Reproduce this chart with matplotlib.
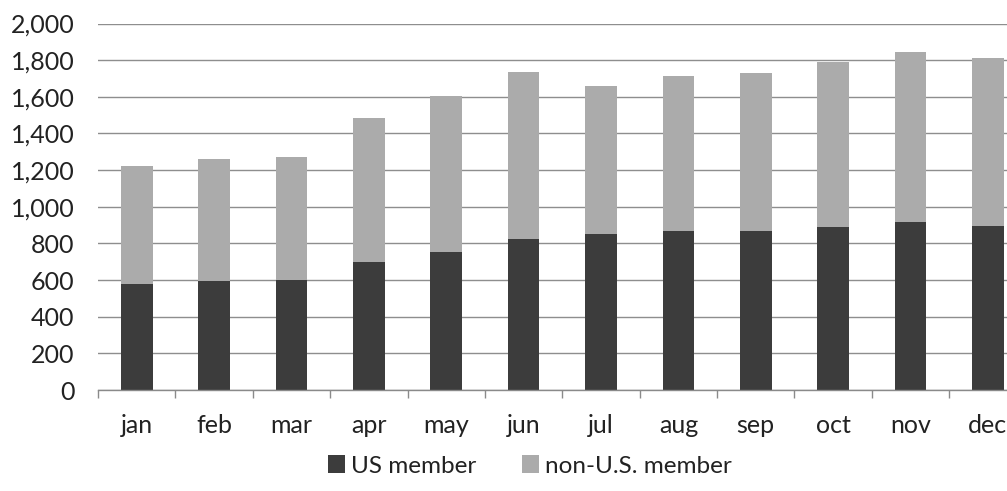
import numpy as np
import matplotlib.pyplot as plt
from matplotlib.ticker import FuncFormatter

months = ['jan', 'feb', 'mar', 'apr', 'may', 'jun',
          'jul', 'aug', 'sep', 'oct', 'nov', 'dec']
us_member = [578, 597, 602, 700, 755, 824, 853, 868, 868, 888, 917, 897]
non_us_member = [644, 663, 669, 783, 849, 910, 806, 845, 860, 904, 929, 913]

plt.rcParams['font.family'] = ['Lato', 'DejaVu Sans']

fig = plt.figure(figsize=(10.07, 4.91), dpi=100)
# axes runs past the right edge of the figure, as in the original
ax = fig.add_axes([98/1007, 1 - 390/491, 928.6/1007, 366.5/491])

x = np.arange(len(months))
w = 0.41
ax.bar(x, us_member, w, color='#3c3c3c', label='US member', zorder=3)
ax.bar(x, non_us_member, w, bottom=us_member, color='#ababab',
       label='non-U.S. member', zorder=3)

ax.set_xlim(-0.5, len(months) - 0.5)
ax.set_ylim(0, 2000)
ax.set_yticks(np.arange(0, 2001, 200))
ax.yaxis.set_major_formatter(FuncFormatter(lambda v, p: f'{v:,.0f}'))
ax.grid(axis='y', color='#8e8e8e', linewidth=1.0, zorder=0)

ax.set_xticks(x)
ax.set_xticklabels(months)
ax.set_xticks(np.arange(-0.5, len(months)), minor=True)
ax.tick_params(axis='x', which='major', length=0, pad=17.5, labelsize=18,
               labelcolor='#222222')
ax.tick_params(axis='x', which='minor', length=6, color='#8a8a8a', width=1)
ax.tick_params(axis='y', length=0, pad=17, labelsize=18, labelcolor='#222222')

for s in ['top', 'right', 'left']:
    ax.spines[s].set_visible(False)
ax.spines['bottom'].set_color('#8a8a8a')
ax.spines['bottom'].set_linewidth(1.0)
ax.spines['bottom'].set_zorder(4)

fig.legend(loc='center', bbox_to_anchor=(530/1007, 1 - 466/491), ncol=2,
           frameon=False, fontsize=17.5, handlelength=0.7, handleheight=0.7,
           handletextpad=0.25, columnspacing=1.9,
           labelcolor='#222222')

fig.savefig('out.png', dpi=100)
